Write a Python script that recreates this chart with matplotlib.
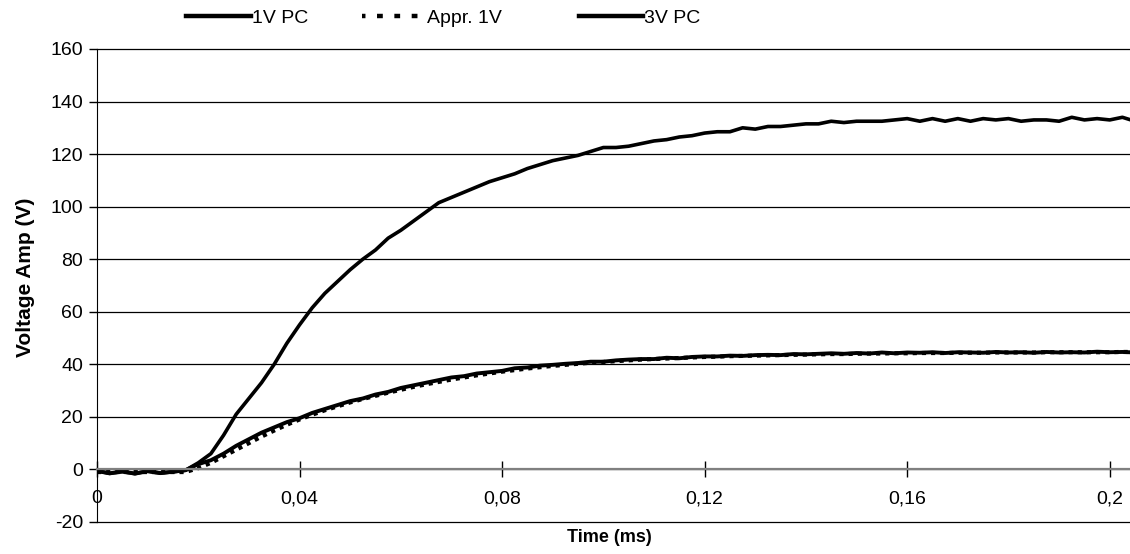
import numpy as np
import matplotlib.pyplot as plt
from matplotlib.lines import Line2D

plt.rcParams['font.family'] = ['Liberation Sans', 'DejaVu Sans']
plt.rcParams['axes.unicode_minus'] = False

# ===================== DONNEES =====================
# temps en ms (pas de 0,0025 ms)
t_ms = np.round(np.arange(83) * 0.0025, 4)

v_1v_pc = [
    -0.6, -1.5, -0.8, -1.6, -0.7, -1.4, -0.9, -0.3,
    2.0, 3.5, 6.0, 9.0, 11.5, 14.0, 16.0, 18.0, 19.5, 21.5,
    23.0, 24.5, 26.0, 27.0, 28.5, 29.5, 31.0, 32.0, 33.0, 34.0,
    35.0, 35.5, 36.5, 37.0, 37.5, 38.5, 38.8, 39.5, 39.8, 40.2,
    40.5, 41.0, 41.0, 41.5, 41.8, 42.0, 42.0, 42.5, 42.3, 42.8,
    43.0, 43.0, 43.3, 43.2, 43.5, 43.6, 43.5, 43.9, 43.8, 44.0,
    44.2, 44.0, 44.3, 44.1, 44.5, 44.2, 44.5, 44.4, 44.6, 44.3,
    44.6, 44.5, 44.4, 44.7, 44.5, 44.6, 44.4, 44.7, 44.5, 44.6,
    44.5, 44.8, 44.6, 44.7, 44.5,
]

v_appr_1v = [
    -1.0, -1.0, -1.0, -1.0, -1.0, -1.0, -1.0, -1.0,
    0.5, 2.5, 5.0, 7.5, 10.0, 12.5, 14.8, 17.0, 19.0, 20.8,
    22.5, 24.0, 25.5, 26.8, 28.0, 29.2, 30.3, 31.4, 32.4, 33.3,
    34.2, 35.0, 35.8, 36.5, 37.2, 37.8, 38.4, 38.9, 39.4, 39.8,
    40.2, 40.6, 40.9, 41.2, 41.5, 41.8, 42.0, 42.2, 42.4, 42.6,
    42.8, 42.9, 43.1, 43.2, 43.3, 43.4, 43.5, 43.6, 43.7, 43.8,
    43.9, 43.9, 44.0, 44.1, 44.1, 44.2, 44.2, 44.3, 44.3, 44.3,
    44.4, 44.4, 44.4, 44.5, 44.5, 44.5, 44.5, 44.6, 44.6, 44.6,
    44.6, 44.6, 44.6, 44.7, 44.7,
]

v_3v_pc = [
    -0.5, -1.5, -0.8, -1.6, -0.6, -1.4, -0.9, -0.3,
    2.5, 6.0, 13.0, 21.0, 27.0, 33.0, 40.0, 48.0, 55.0, 61.5,
    67.0, 71.5, 76.0, 80.0, 83.5, 88.0, 91.0, 94.5, 98.0, 101.5,
    103.5, 105.5, 107.5, 109.5, 111.0, 112.5, 114.5, 116.0, 117.5, 118.5,
    119.5, 121.0, 122.5, 122.5, 123.0, 124.0, 125.0, 125.5, 126.5, 127.0,
    128.0, 128.5, 128.5, 130.0, 129.5, 130.5, 130.5, 131.0, 131.5, 131.5,
    132.5, 132.0, 132.5, 132.5, 132.5, 133.0, 133.5, 132.5, 133.5, 132.5,
    133.5, 132.5, 133.5, 133.0, 133.5, 132.5, 133.0, 133.0, 132.5, 134.0,
    133.0, 133.5, 133.0, 134.0, 132.5,
]

x_ticks = [0, 0.04, 0.08, 0.12, 0.16, 0.2]
x_labels = ['0', '0,04', '0,08', '0,12', '0,16', '0,2']
y_ticks = [-20, 0, 20, 40, 60, 80, 100, 120, 140, 160]

# ===================== FIGURE =====================
fig = plt.figure(figsize=(11.3, 5.54), dpi=100)
ax = fig.add_axes([0.0858, 0.0578, 0.9142, 0.8538])

ax.plot(t_ms, v_1v_pc, color='black', lw=2.8, solid_joinstyle='round')
ax.plot(t_ms, v_appr_1v, color='black', lw=3.0, linestyle=(0, (1, 1.2)))
ax.plot(t_ms, v_3v_pc, color='black', lw=2.6, solid_joinstyle='round')

ax.set_xlim(0, 0.204)
ax.set_ylim(-20, 160)
ax.set_yticks(y_ticks)
ax.set_xticks(x_ticks)
ax.set_xticklabels(x_labels)

for y in y_ticks:
    ax.axhline(y, color='black', lw=0.9, zorder=0, clip_on=False)

ax.spines['top'].set_visible(False)
ax.spines['right'].set_visible(False)
ax.spines['left'].set_color('black')
ax.spines['bottom'].set_position(('data', 0))
ax.spines['bottom'].set_color('#808080')
ax.spines['bottom'].set_linewidth(1.6)

ax.tick_params(axis='x', direction='inout', length=12, width=1, color='black',
               labelsize=14, pad=9)
ax.tick_params(axis='y', direction='out', length=6, width=1, labelsize=14, pad=4)

ax.set_xlabel('Time (ms)', fontsize=13, fontweight='bold', va='center')
ax.xaxis.set_label_coords(0.496, -0.032)
ax.set_ylabel('Voltage Amp (V)', fontsize=15, fontweight='bold', va='center')
ax.yaxis.set_label_coords(-0.069, 0.517)

# ===================== LEGENDE =====================
entries = [
    ('1V PC', '-', 0.165),
    ('Appr. 1V', (0.52, (1.3, 2.6)), 0.320),
    ('3V PC', '-', 0.512),
]
for label, ls, xpos in entries:
    h = Line2D([], [], color='black', lw=3.2, linestyle=ls, dash_capstyle='butt')
    fig.legend(handles=[h], labels=[label], loc='center left',
               bbox_to_anchor=(xpos, 0.968), frameon=False, fontsize=14,
               handlelength=3.3, handletextpad=0.05, borderpad=0,
               borderaxespad=0)

plt.savefig('out.png', dpi=100)
plt.close()
